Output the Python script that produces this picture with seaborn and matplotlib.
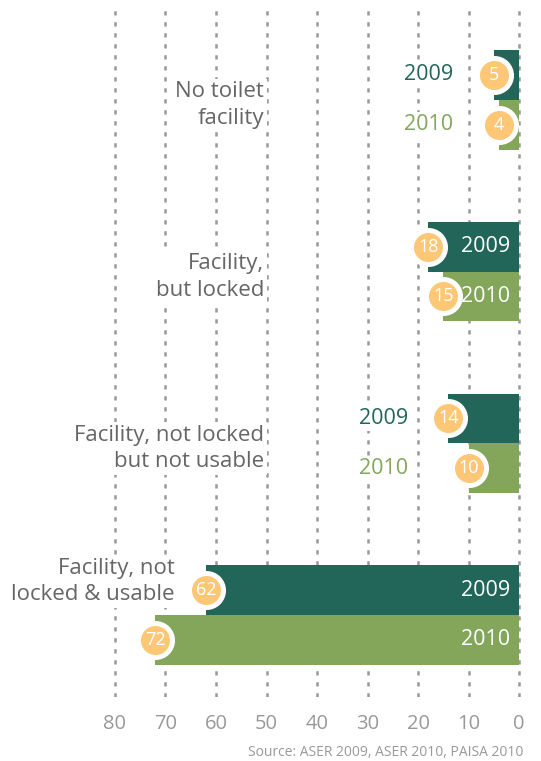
import numpy as np
import pandas as pd
import matplotlib
matplotlib.use("Agg")
import matplotlib.pyplot as plt
import seaborn as sns

# ---- data ----
categories = ["No toilet facility", "Facility, but locked",
              "Facility, not locked but not usable", "Facility, not locked & usable"]
category_labels = ["No toilet\nfacility", "Facility,\nbut locked",
                   "Facility, not locked\nbut not usable", "Facility, not\nlocked & usable"]
years = ["2009", "2010"]
values_2009 = [5, 18, 14, 62]
values_2010 = [4, 15, 10, 72]
x_ticks = [0, 10, 20, 30, 40, 50, 60, 70, 80]
source_text = "Source: ASER 2009, ASER 2010, PAISA 2010"

# ---- style ----
sns.set_style("white")
plt.rcParams["font.family"] = ["Open Sans", "DejaVu Sans"]

DARK = "#22665a"
LIGHT = "#83a65a"
ORANGE = "#fdc776"
TXT = "#666666"
GRID = "#999999"

df = pd.DataFrame({
    "category": categories * 2,
    "year": [years[0]] * len(categories) + [years[1]] * len(categories),
    "value": values_2009 + values_2010,
})

W, H = 541, 761
fig = plt.figure(figsize=(W / 100, H / 100), dpi=100)
ax = fig.add_axes([105 / W, 64 / H, 424 / W, 687 / H])

sns.barplot(data=df, y="category", x="value", hue="year", order=categories,
            hue_order=years, palette=[DARK, LIGHT], orient="h", width=0.58,
            gap=0, dodge=True, legend=False, saturation=1, ax=ax, zorder=2,
            linewidth=0, edgecolor="none")

ax.set_xlim(80 + 10 / 5.05, 0 - 10 / 5.05)
ax.set_ylim(3.477, -0.523)
ax.set_xticks(x_ticks)
ax.set_xticklabels([str(t) for t in x_ticks])
ax.set_yticks([])
ax.set_xlabel("")
ax.set_ylabel("")
for s in ax.spines.values():
    s.set_visible(False)
ax.set_axisbelow(True)
ax.grid(axis="x", color=GRID, linestyle=(0, (1.7, 2.7)), linewidth=1.8)
ax.grid(axis="y", visible=False)
ax.tick_params(axis="x", length=0, pad=12, labelsize=14.5, labelcolor="#999999")

# ---- annotations ----
bar_info = {}  # (cat_idx, year_idx) -> (value, ycenter)
for yi, cont in enumerate(ax.containers):
    for ci, bar in enumerate(cont.patches):
        val = bar.get_width()
        yc = bar.get_y() + bar.get_height() / 2
        bar_info[(ci, yi)] = (val, yc)

colors = [DARK, LIGHT]
for ci in range(len(categories)):
    vals = [bar_info[(ci, yi)][0] for yi in range(2)]
    inside = min(vals) >= 15
    for yi in range(2):
        val, yc = bar_info[(ci, yi)]
        # value circle
        ax.scatter([val], [yc], s=600, color=ORANGE, edgecolors="white",
                   linewidths=3.6, zorder=5, clip_on=False)
        ax.text(val, yc, f"{val:.0f}", color="white", fontsize=13,
                ha="center", va="center", zorder=6)
        # year label
        if inside:
            ax.text(1.8, yc, years[yi], color="white", fontsize=15.5,
                    ha="right", va="center", zorder=6)
        else:
            ax.text(max(vals) + 8, yc, years[yi], color=colors[yi], fontsize=15.5,
                    ha="right", va="center", zorder=4,
                    bbox=dict(facecolor="white", edgecolor="none", pad=1.5))
    # category label
    gc = (bar_info[(ci, 0)][1] + bar_info[(ci, 1)][1]) / 2
    if max(vals) < 45:
        lx, ly = 50.5, gc + 0.03
    else:
        lx, ly = vals[0] + 6.2, bar_info[(ci, 0)][1] - 0.05
    ax.text(lx, ly, category_labels[ci], color=TXT, fontsize=16, ha="right",
            va="center", multialignment="right", linespacing=1.35, zorder=4,
            bbox=dict(facecolor="white", edgecolor="none", pad=2))

fig.text(523 / W, 1 - 752 / H, source_text, color="#999999", fontsize=10,
         ha="right", va="center")

fig.savefig("out.png", dpi=100, facecolor="white")
